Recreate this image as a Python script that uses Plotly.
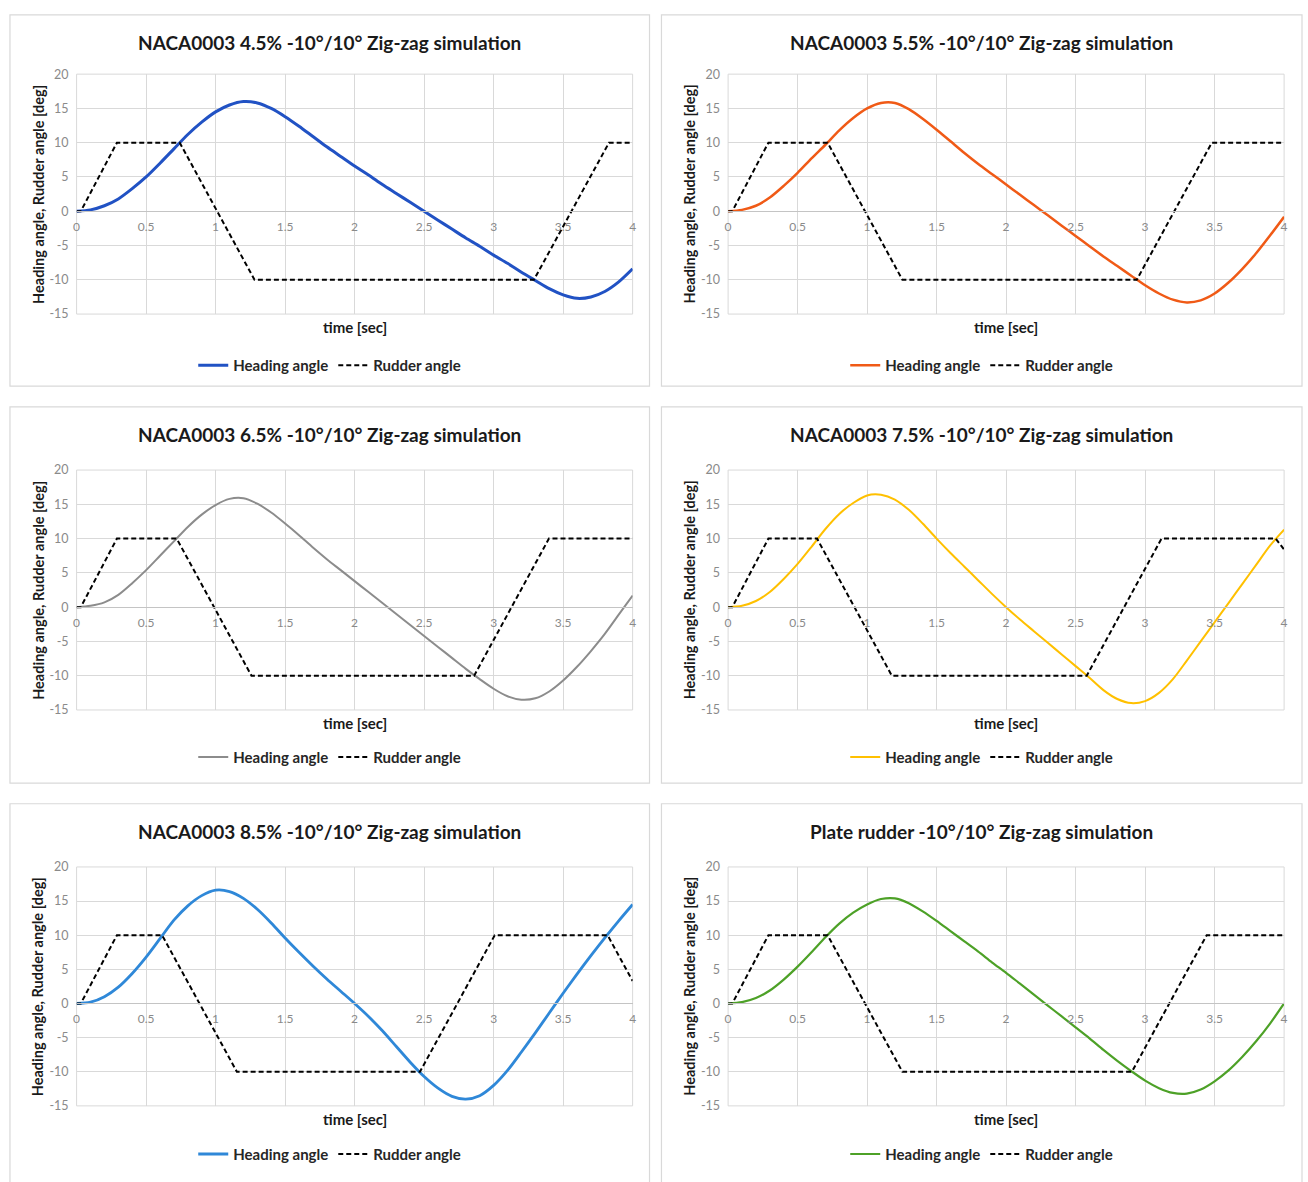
import plotly.graph_objects as go

# ---- data -------------------------------------------------------------
TIME = [0.0, 0.1, 0.2, 0.3, 0.4, 0.5, 0.6, 0.7, 0.8, 0.9,
        1.0, 1.1, 1.2, 1.3, 1.4, 1.5, 1.6, 1.7, 1.8, 1.9,
        2.0, 2.1, 2.2, 2.3, 2.4, 2.5, 2.6, 2.7, 2.8, 2.9,
        3.0, 3.1, 3.2, 3.3, 3.4, 3.5, 3.6, 3.7, 3.8, 3.9, 4.0]

HEADING_45 = [0, 0.2, 0.8, 1.8, 3.3, 5.0, 7.0, 9.1, 11.2, 13.0,
              14.5, 15.5, 16.0, 15.8, 15.0, 13.8, 12.4, 10.9, 9.4, 8.0,
              6.6, 5.3, 3.9, 2.6, 1.3, 0, -1.3, -2.6, -3.9, -5.1,
              -6.4, -7.6, -8.9, -10.1, -11.3, -12.2, -12.7, -12.5, -11.7, -10.3, -8.4]
HEADING_55 = [0, 0.2, 0.8, 2.0, 3.7, 5.6, 7.7, 9.7, 11.8, 13.6,
              15.0, 15.8, 15.8, 14.9, 13.5, 11.9, 10.2, 8.5, 6.9, 5.4,
              3.9, 2.4, 0.9, -0.6, -2.1, -3.6, -5.1, -6.6, -8.0, -9.4,
              -10.8, -12.0, -12.9, -13.3, -13.0, -12.0, -10.4, -8.4, -6.1, -3.5, -0.8]
HEADING_65 = [0, 0.2, 0.7, 1.8, 3.5, 5.4, 7.5, 9.6, 11.7, 13.5,
              14.9, 15.8, 15.9, 15.1, 13.8, 12.2, 10.5, 8.7, 7.0, 5.4,
              3.8, 2.2, 0.6, -1.0, -2.6, -4.2, -5.8, -7.4, -9.0, -10.5,
              -11.9, -13.0, -13.5, -13.3, -12.3, -10.7, -8.7, -6.4, -3.9, -1.1, 1.7]
HEADING_75 = [0, 0.2, 0.9, 2.2, 4.1, 6.3, 8.8, 11.4, 13.6, 15.2,
              16.3, 16.4, 15.7, 14.2, 12.2, 10.0, 7.9, 5.9, 3.9, 1.9,
              0, -1.8, -3.5, -5.2, -6.9, -8.6, -10.3, -12.1, -13.4, -14.0,
              -13.7, -12.5, -10.5, -7.8, -5.0, -2.2, 0.6, 3.4, 6.2, 9.0, 11.3]
HEADING_85 = [0, 0.2, 1.0, 2.4, 4.4, 6.8, 9.5, 12.2, 14.3, 15.8,
              16.6, 16.4, 15.4, 13.8, 11.8, 9.6, 7.5, 5.5, 3.6, 1.8,
              0, -1.9, -4.0, -6.3, -8.6, -10.7, -12.4, -13.6, -14.0, -13.5,
              -12.0, -9.8, -7.1, -4.3, -1.4, 1.5, 4.3, 7.0, 9.6, 12.1, 14.5]
HEADING_PLATE = [0, 0.2, 0.8, 1.9, 3.5, 5.4, 7.5, 9.7, 11.7, 13.3,
                 14.5, 15.3, 15.4, 14.7, 13.5, 12.1, 10.6, 9.1, 7.6, 6.0,
                 4.5, 2.9, 1.3, -0.3, -1.9, -3.5, -5.1, -6.8, -8.4, -9.9,
                 -11.3, -12.4, -13.1, -13.2, -12.6, -11.4, -9.8, -7.8, -5.5, -2.9, 0]

RUDDER_T_45 = [0, 0.03, 0.29, 0.742, 1.28, 3.29, 3.83, 4.0]
RUDDER_45 = [0, 0, 10, 10, -10, -10, 10, 10]
RUDDER_T_55 = [0, 0.03, 0.29, 0.716, 1.254, 2.94, 3.48, 4.0]
RUDDER_55 = [0, 0, 10, 10, -10, -10, 10, 10]
RUDDER_T_65 = [0, 0.03, 0.29, 0.72, 1.258, 2.86, 3.398, 4.0]
RUDDER_65 = [0, 0, 10, 10, -10, -10, 10, 10]
RUDDER_T_75 = [0, 0.03, 0.29, 0.64, 1.178, 2.58, 3.118, 3.94, 4.0]
RUDDER_75 = [0, 0, 10, 10, -10, -10, 10, 10, 8.4]
RUDDER_T_85 = [0, 0.03, 0.29, 0.615, 1.153, 2.47, 3.008, 3.82, 4.0]
RUDDER_85 = [0, 0, 10, 10, -10, -10, 10, 10, 3.3]
RUDDER_T_PLATE = [0, 0.03, 0.29, 0.716, 1.254, 2.905, 3.443, 4.0]
RUDDER_PLATE = [0, 0, 10, 10, -10, -10, 10, 10]

TITLES = [
    "NACA0003 4.5% -10°/10° Zig-zag simulation",
    "NACA0003 5.5% -10°/10° Zig-zag simulation",
    "NACA0003 6.5% -10°/10° Zig-zag simulation",
    "NACA0003 7.5% -10°/10° Zig-zag simulation",
    "NACA0003 8.5% -10°/10° Zig-zag simulation",
    "Plate rudder -10°/10° Zig-zag simulation",
]

X_TICKS = [0, 0.5, 1, 1.5, 2, 2.5, 3, 3.5, 4]
X_TICK_LABELS = ["0", "0.5", "1", "1.5", "2", "2.5", "3", "3.5", "4"]
Y_TICKS = [-15, -10, -5, 0, 5, 10, 15, 20]
Y_TICK_LABELS = ["-15", "-10", "-5", "0", "5", "10", "15", "20"]

# ---- styling ----------------------------------------------------------
HEADINGS = [HEADING_45, HEADING_55, HEADING_65, HEADING_75, HEADING_85, HEADING_PLATE]
RUDDER_TIMES = [RUDDER_T_45, RUDDER_T_55, RUDDER_T_65, RUDDER_T_75, RUDDER_T_85, RUDDER_T_PLATE]
RUDDERS = [RUDDER_45, RUDDER_55, RUDDER_65, RUDDER_75, RUDDER_85, RUDDER_PLATE]
COLORS = ["#2152C4", "#F05A16", "#8C8C8C", "#FFC000", "#2F88D8", "#4DA127"]
WIDTHS = [3, 2.5, 2, 2, 2.8, 2.2]

FONT = "Lato"
W, H = 1308, 1182
GRID = "#d9d9d9"

# pixel geometry of panels and plot areas
COL_BOX = [(7, 650), (662, 1306)]
ROW_BOX = [(7, 383), (404, 785), (806, 1190)]
COL_PLOT = [(74, 633), (729, 1288)]
ROW_PLOT = [(67, 310), (468, 711), (870, 1112)]


def fx(p):
    return p / W


def fy(p):
    return 1 - p / H


fig = go.Figure()
layout = dict(
    width=W, height=H,
    margin=dict(l=0, r=0, t=0, b=0),
    paper_bgcolor="white", plot_bgcolor="white",
    font=dict(family=FONT, color="#262626"),
    showlegend=True,
)
shapes, annotations = [], []

for i in range(6):
    r, c = divmod(i, 2)
    sfx = "" if i == 0 else str(i + 1)
    xa, ya = "x" + sfx, "y" + sfx
    lg = "legend" + sfx

    bx0, bx1 = COL_BOX[c]
    by0, by1 = ROW_BOX[r]
    px0, px1 = COL_PLOT[c]
    py0, py1 = ROW_PLOT[r]
    zero_px = py0 + 20 / 35 * (py1 - py0)

    fig.add_trace(go.Scatter(
        x=TIME, y=HEADINGS[i], mode="lines", name="Heading angle",
        line=dict(color=COLORS[i], width=WIDTHS[i], shape="spline", smoothing=0.8),
        xaxis=xa, yaxis=ya, legend=lg, hoverinfo="skip"))
    fig.add_trace(go.Scatter(
        x=RUDDER_TIMES[i], y=RUDDERS[i], mode="lines", name="Rudder angle",
        line=dict(color="black", width=2, dash="5px,3px"),
        xaxis=xa, yaxis=ya, legend=lg, hoverinfo="skip"))

    layout["xaxis" + sfx] = dict(
        domain=[fx(px0), fx(px1)], range=[0, 4],
        anchor="free", position=fy(zero_px),
        tickmode="array", tickvals=X_TICKS, ticktext=X_TICK_LABELS,
        showgrid=True, gridcolor=GRID, gridwidth=1,
        showline=True, linecolor="#c4c4c4", linewidth=1,
        zeroline=False, ticks="", ticklabelstandoff=4,
        tickfont=dict(family=FONT, size=12, color="#8a8a8a"),
    )
    layout["yaxis" + sfx] = dict(
        domain=[fy(py1), fy(py0)], range=[-15, 20], anchor=xa,
        tickmode="array", tickvals=Y_TICKS, ticktext=Y_TICK_LABELS,
        showgrid=True, gridcolor=GRID, gridwidth=1,
        zeroline=False, ticks="", ticklabelstandoff=7,
        tickfont=dict(family=FONT, size=12.5, color="#8a8a8a"),
    )
    layout[lg] = dict(
        orientation="h", x=fx((bx0 + bx1) / 2), xanchor="center",
        y=fy(by0 + 355), yanchor="middle",
        font=dict(family=FONT, size=15, color="#262626", weight="bold"),
        bgcolor="rgba(0,0,0,0)", itemwidth=30,
    )

    # panel frame
    shapes.append(dict(type="rect", xref="paper", yref="paper",
                       x0=fx(bx0), x1=fx(bx1), y0=fy(by1), y1=fy(by0),
                       line=dict(color="#d9d9d9", width=1.2), layer="below"))
    # plot area outline
    shapes.append(dict(type="rect", xref=xa + " domain", yref=ya + " domain",
                       x0=0, x1=1, y0=0, y1=1,
                       line=dict(color=GRID, width=1), layer="below"))

    annotations.append(dict(
        text="<b>" + TITLES[i] + "</b>", xref="paper", yref="paper",
        x=fx((bx0 + bx1) / 2), y=fy(by0 + 28), xanchor="center", yanchor="middle",
        showarrow=False, font=dict(family=FONT, size=19, color="#1a1a1a")))
    annotations.append(dict(
        text="<b>time [sec]</b>", xref="paper", yref="paper",
        x=fx((px0 + px1) / 2), y=fy(py1 + 13), xanchor="center", yanchor="middle",
        showarrow=False, font=dict(family=FONT, size=15, color="#1a1a1a")))
    annotations.append(dict(
        text="<b>Heading angle, Rudder angle [deg]</b>", xref="paper", yref="paper",
        x=fx(bx0 + 28), y=fy((py0 + py1) / 2), xanchor="center", yanchor="middle",
        textangle=-90, showarrow=False,
        font=dict(family=FONT, size=14.5, color="#1a1a1a")))

layout["shapes"] = shapes
layout["annotations"] = annotations
fig.update_layout(**layout)

fig.write_html("out.html")
